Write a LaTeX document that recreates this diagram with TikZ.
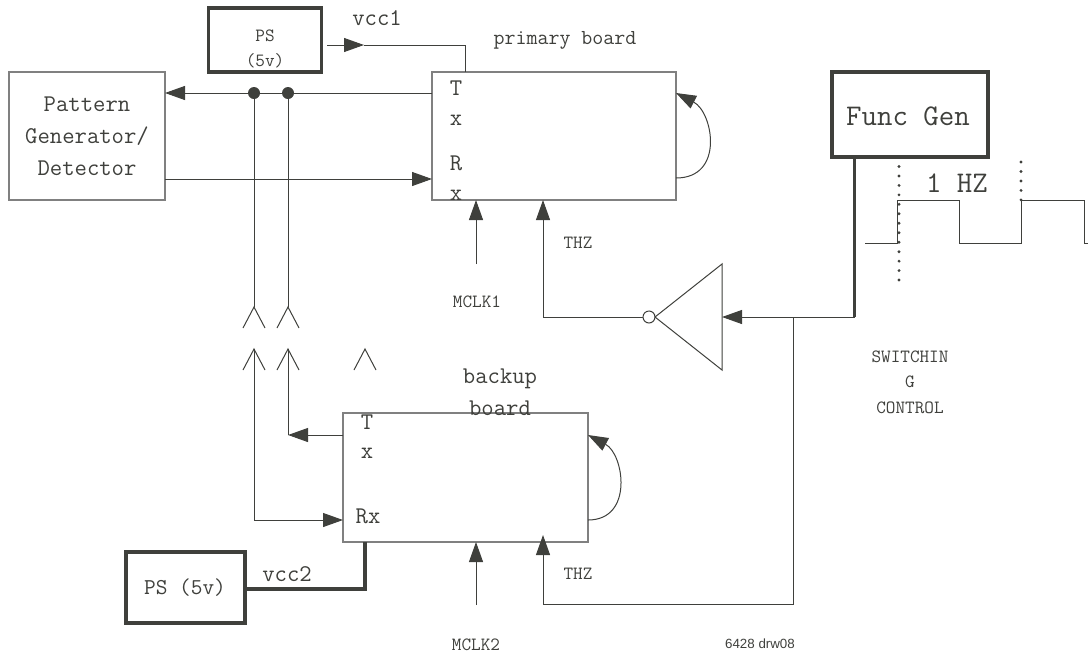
\documentclass[tikz,border=0pt]{standalone}
\usepackage{fontspec}
\usepackage{tikz}
\usetikzlibrary{arrows.meta}
\newfontfamily\labelsans{Liberation Sans}
\definecolor{ink}{HTML}{3F403C}
\tikzset{
    >={Triangle[length=15pt,width=10.5pt]},
    box/.style={draw=gray,line width=0.85pt,outer sep=0pt,inner sep=0pt,align=center},
    heavybox/.style={draw=ink,line width=2.5pt,outer sep=0pt,inner sep=0pt,align=center},
    heavy/.style={line width=2.5pt},
    big/.style={font=\fontsize{18}{24}\ttfamily\selectfont,text=ink,align=center,inner sep=0pt},
    huge/.style={font=\fontsize{22.5}{26}\ttfamily\selectfont,text=ink,inner sep=0pt},
    small/.style={font=\fontsize{14}{19}\ttfamily\selectfont,text=ink,align=center,inner sep=0pt},
    tick/.style={dash pattern=on 0pt off 7.1pt,line cap=round,line width=2.4pt},
}
\newcommand{\fork}[1]{\draw (#1) ++(-11,21) -- (#1) -- ++(11,21);}
\begin{document}
\begin{tikzpicture}[x=0.75pt,y=-0.75pt,color=ink,line width=0.75pt]
        \useasboundingbox (0,0) rectangle (1088,654);

        \node[box,big,minimum width=156*0.75pt,minimum height=128*0.75pt](pattern) at (87,136){Pattern\\Generator/\\Detector};
        \node[heavybox,minimum width=113*0.75pt,minimum height=64*0.75pt](ps1) at (265,40){};
        \node[box,minimum width=244*0.75pt,minimum height=128*0.75pt](primary) at (554,136){};
        \node[box,minimum width=245*0.75pt,minimum height=129*0.75pt](backup) at (465.5,477.5){};
        \node[heavybox,minimum width=119*0.75pt,minimum height=71*0.75pt](ps2) at (185.5,587.5){};
        \node[heavybox,minimum width=156*0.75pt,minimum height=85*0.75pt](funcgen) at (910,114.5){};

        \node[small](pslabel) at (265,36){PS};
        \node[small](pvlabel) at (265,61){(5v)};
        \node[big](vcclabel) at (377,18){vcc1};
        \node[big,font=\fontsize{16}{20}\ttfamily\selectfont](primarylabel) at (565,40){primary board};
        \node[big](ta) at (456,88){T};
        \node[big](xa) at (456,120){x};
        \node[big](ra) at (456,163){R};
        \node[big](xb) at (456,195){x};
        \node[small](mclka) at (477,302){MCLK1};
        \node[small](thza) at (578,243){THZ};
        \node[huge](fglabel) at (908,116){Func Gen};
        \node[huge](hzlabel) at (957,183){1 HZ};
        \node[small](swlabel) at (910,382){SWITCHIN\\G\\CONTROL};
        \node[big](backuplabel) at (500,392){backup\\board};
        \node[big](tb) at (367,422){T};
        \node[big](xc) at (367,453){x};
        \node[big](rb) at (368,516){Rx};
        \node[big](vcctwo) at (287,574){vcc2};
        \node[big,font=\fontsize{17}{20}\ttfamily\selectfont](pstwo) at (185,588){PS (5v)};
        \node[small](thzb) at (578,574){THZ};
        \node[small](mclkb) at (476,645){MCLK2};
        \node[text=ink,inner sep=0pt,font=\labelsans\fontsize{10}{12}\selectfont](drw) at (760,644){6428 drw08};

        \coordinate(jone) at (254,93);
        \coordinate(jtwo) at (288,93);
        \coordinate(forka) at (254,307);
        \coordinate(forkb) at (288,307);
        \coordinate(forkc) at (254,349);
        \coordinate(forkd) at (288,349);
        \coordinate(forke) at (365,349);
        \coordinate(rxa) at (0,179);
        \coordinate(txb) at (0,435);
        \coordinate(rxb) at (254,520);
        \coordinate(vcca) at (327,45);
        \coordinate(vcctip) at (364,45);
        \coordinate(vccb) at (465.5,45);
        \coordinate(vccc) at (365,589);
        \coordinate(clkb) at (476,264);
        \coordinate(clkc) at (476,605);
        \coordinate(thzc) at (543,317);
        \coordinate(thzd) at (543,604);
        \coordinate(thze) at (543,535);
        \coordinate(split) at (793,317);
        \coordinate(split2) at (793,604);
        \coordinate(fgdrop) at (854.5,157);
        \coordinate(fgturn) at (854.5,317);
        \coordinate(tritop) at (722,264);
        \coordinate(tribot) at (722,370);
        \coordinate(triapex) at (655,317);
        \coordinate(triin) at (722,317);
        \node[draw=ink,fill=white,circle,minimum size=12*0.75pt,inner sep=0pt,outer sep=0pt](bubble) at (649,317){};

        \draw[->](primary.west |- jone)--(pattern.east |- jone);
        \draw[->](pattern.east |- rxa)--(primary.west |- rxa);
        \fill(jone) circle (4.5pt);
        \fill(jtwo) circle (4.5pt);
        \draw(jone)--(forka);
        \draw(jtwo)--(forkb);
        \fork{forka}
        \fork{forkb}
        \fork{forkc}
        \fork{forkd}
        \fork{forke}

        \draw[->](vcca)--(vcctip);
        \draw(vcctip)--(vccb)--(primary.north -| vccb);
        \draw[->](clkb)--(primary.south -| clkb);
        \draw[->](bubble.west)--(bubble.west -| thzc)--(primary.south -| thzc);
        \draw[->](primary.east |- 0,178) .. controls (725,178) and (713,112) .. (primary.east |- 0,93);

        \draw(triapex)--(tritop)--(tribot)--cycle;
        \draw[heavy](fgdrop)--(fgturn);
        \draw(fgturn)--(split);
        \draw[->](split)--(triin);
        \draw(split)--(split2)--(thzd);
        \draw[->](thzd)--(thze);

        \draw[->](backup.west |- txb)--(forkd |- txb);
        \draw(forkd |- txb)--(forkd);
        \draw(forkc)--(rxb);
        \draw[->](rxb)--(backup.west |- rxb);
        \draw[->](clkc)--(backup.south -| clkc);
        \draw[->](backup.east |- 0,520) .. controls (634,520) and (624,454) .. (backup.east |- 0,435);
        \draw[heavy](ps2.east |- vccc)--(vccc)--(backup.south -| vccc);

        \draw(865,243)--(897,243)--(897,200)--(959,200)--(959,243)--(1021,243)--(1021,200)--(1084,200)--(1084,243)--(1088,243);
        \draw[tick](899,157)--(899,283);
        \draw[tick](1021,162)--(1021,202);
    \end{tikzpicture}
\end{document}
